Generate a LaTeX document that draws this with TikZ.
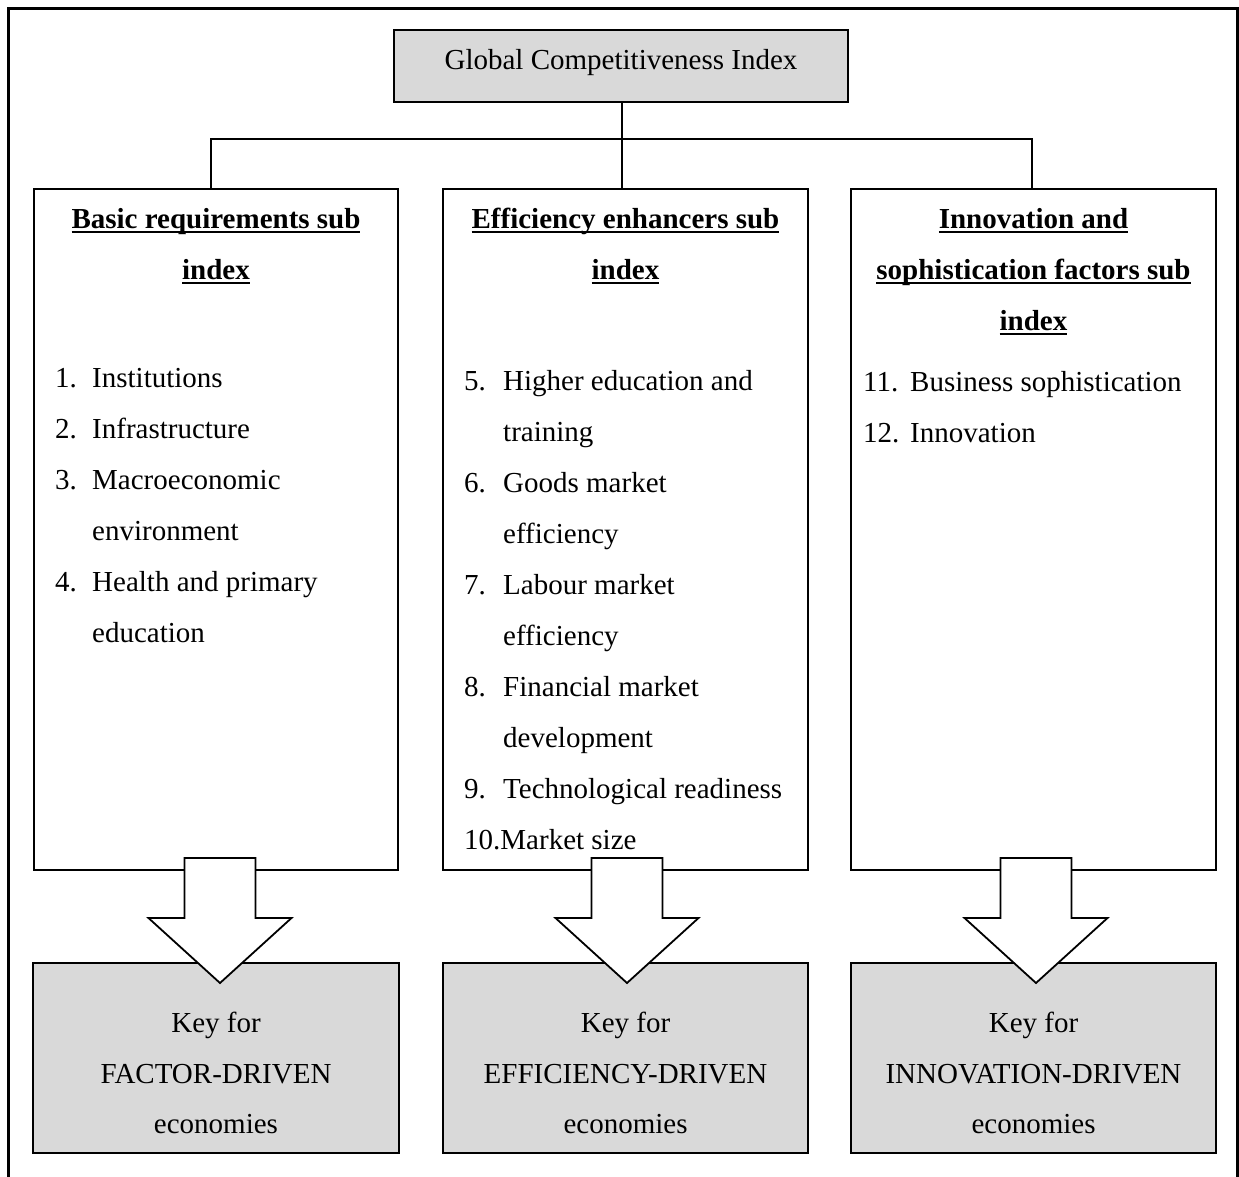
\documentclass[tikz,border=0pt]{standalone}
\usepackage{fontspec}
\setmainfont{Liberation Serif}
\usetikzlibrary{calc}
\definecolor{boxgray}{HTML}{D9D9D9}
% bold heading with a hand-set underline
\newcommand\hdline[1]{\setbox0\hbox{\bfseries #1}\rlap{\rule[-4.5pt]{\wd0}{1.8pt}}\box0}
\newcommand\blockarrow[1]{%
  \draw[arrowshape] (#1-35.5,858) -- (#1+35.5,858) -- (#1+35.5,918) -- (#1+71.5,918)
    -- (#1,983) -- (#1-71.5,918) -- (#1-35.5,918) -- cycle;}
\begin{document}
\begin{tikzpicture}[x=1pt,y=-1pt,
  every node/.style={font=\fontsize{29}{51}\selectfont, inner sep=0pt},
  box/.style={draw, line width=1.8pt, rectangle},
  graybox/.style={box, fill=boxgray},
  txt/.style={anchor=base},
  item/.style={anchor=base west},
  link/.style={line width=1.8pt},
  arrowshape/.style={draw, line width=1.8pt, fill=white, line join=miter}]
\useasboundingbox (0,0) rectangle (1239,1176);
\clip (0,0) rectangle (1239,1176);
% outer frame (runs past the lower edge)
\draw[line width=3pt] (8.5,8.5) rectangle (1237.5,1200);

% top index box
\node[graybox, minimum width=454, minimum height=72] (gci) at (621,66) {};
\node[txt] (gcit) at (621,69) {Global Competitiveness Index};

% sub-index boxes
\node[box, minimum width=364, minimum height=681] (basic) at (216,529.5) {};
\node[box, minimum width=365, minimum height=681] (eff) at (625.5,529.5) {};
\node[box, minimum width=365, minimum height=681] (inno) at (1033.5,529.5) {};

% connectors
\coordinate (hub) at (622,139);
\draw[link] (gci.south -| hub) -- (eff.north -| hub);
\draw[link] ([xshift=-5pt]basic.north) |- (hub) -| ([xshift=-1.5pt]inno.north);

% economy boxes
\node[graybox, minimum width=366, minimum height=190] (kf) at (216,1058) {};
\node[graybox, minimum width=365, minimum height=190] (ke) at (625.5,1058) {};
\node[graybox, minimum width=365, minimum height=190] (ki) at (1033.5,1058) {};

% headings
\node[txt] (bh1) at (216,228) {\hdline{Basic requirements sub}};
\node[txt] (bh2) at (216,279) {\hdline{index}};
\node[txt] (eh1) at (625.5,228) {\hdline{Efficiency enhancers sub}};
\node[txt] (eh2) at (625.5,279) {\hdline{index}};
\node[txt] (ih1) at (1033.5,228) {\hdline{Innovation and}};
\node[txt] (ih2) at (1033.5,279) {\hdline{sophistication factors sub}};
\node[txt] (ih3) at (1033.5,330) {\hdline{index}};

% basic requirements pillars
\foreach \k/\n/\t in {0/1./Institutions, 1/2./Infrastructure, 2/3./Macroeconomic,
    3//environment, 4/4./Health and primary, 5//education}{
  \node[item] (bn\k) at (55,387+51*\k) {\n};
  \node[item] (bt\k) at (92,387+51*\k) {\t};
}

% efficiency enhancers pillars
\foreach \k/\n/\t in {0/5./Higher education and, 1//training, 2/6./Goods market,
    3//efficiency, 4/7./Labour market, 5//efficiency, 6/8./Financial market,
    7//development, 8/9./Technological readiness}{
  \node[item] (en\k) at (464,390+51*\k) {\n};
  \node[item] (et\k) at (503,390+51*\k) {\t};
}
\node[item] (et9) at (464,849) {10.Market size};

% innovation pillars
\node[item] (in0) at (863,391) {11.};
\node[item] (it0) at (910,391) {Business sophistication};
\node[item] (in1) at (863,442) {12.};
\node[item] (it1) at (910,442) {Innovation};

% block arrows
\blockarrow{220}
\blockarrow{627}
\blockarrow{1036}

% economy labels
\foreach \nm/\cx/\w in {kf/216/FACTOR, ke/625.5/EFFICIENCY, ki/1033.5/INNOVATION}{
  \node[txt] (\nm a) at (\cx,1032) {Key for};
  \node[txt] (\nm b) at (\cx,1083) {\w-DRIVEN};
  \node[txt] (\nm c) at (\cx,1133) {economies};
}
\end{tikzpicture}
\end{document}
